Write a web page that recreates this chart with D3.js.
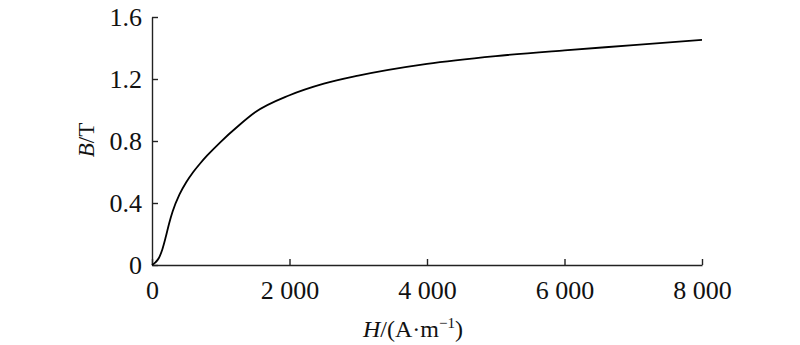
<!DOCTYPE html>
<html><head><meta charset="utf-8">
<script src="https://cdn.jsdelivr.net/npm/d3@7"></script>
<style>
body{margin:0;background:#fff;}
svg text{font-family:"Liberation Serif","Times New Roman",serif;fill:#111;}
</style></head>
<body><svg id="c" width="800" height="345"></svg>
<script>
const H = [0,50,100,150,200,250,300,400,500,600,700,800,1000,1250,1500,2000,2500,3000,4000,5000,6000,7000,8000];
const B = [0,0.017,0.045,0.1,0.18,0.27,0.345,0.455,0.535,0.6,0.655,0.705,0.795,0.895,0.985,1.095,1.17,1.222,1.298,1.348,1.385,1.418,1.452];
const xTicks = [0,2000,4000,6000,8000];
const xTickLabels = ["0","2 000","4 000","6 000","8 000"];
const yTicks = [0,0.4,0.8,1.2,1.6];
const yTickLabels = ["0","0.4","0.8","1.2","1.6"];

const svg = d3.select("#c");
const x = d3.scaleLinear().domain([0,8000]).range([152,702]);
const y = d3.scaleLinear().domain([0,1.6]).range([265,17]);
const axisColor = "#222";

const xa = svg.append("g").attr("transform","translate(0,265)")
  .call(d3.axisBottom(x).tickValues(xTicks).tickSize(-6).tickPadding(16)
    .tickFormat((d,i)=>xTickLabels[i]).tickSizeOuter(0));
const ya = svg.append("g").attr("transform","translate(152,0)")
  .call(d3.axisLeft(y).tickValues(yTicks).tickSize(-6).tickPadding(10)
    .tickFormat((d,i)=>yTickLabels[i]).tickSizeOuter(0));
[xa,ya].forEach(g=>{
  g.selectAll("path,line").attr("stroke",axisColor).attr("stroke-width",1.4);
  g.selectAll("text").style("font-size","26px").attr("fill","#111");
});
xa.selectAll("text").attr("dy","0.71em");

const pts = H.map((h,i)=>[h,B[i]]);
svg.append("path").datum(pts)
  .attr("fill","none").attr("stroke","#000").attr("stroke-width",1.8)
  .attr("d", d3.line().x(d=>x(d[0])).y(d=>y(d[1])).curve(d3.curveMonotoneX));

// axis titles
const xt = svg.append("text").attr("x",413).attr("y",337).attr("text-anchor","middle").style("font-size","24px");
xt.append("tspan").attr("font-style","italic").text("H");
xt.append("tspan").text("/(A·m");
xt.append("tspan").attr("dy",-9).style("font-size","15px").text("−1");
xt.append("tspan").attr("dy",9).text(")");

const yt = svg.append("text").attr("transform","translate(94,140) rotate(-90)").attr("text-anchor","middle").style("font-size","23px");
yt.append("tspan").attr("font-style","italic").text("B");
yt.append("tspan").text("/T");
</script></body></html>
